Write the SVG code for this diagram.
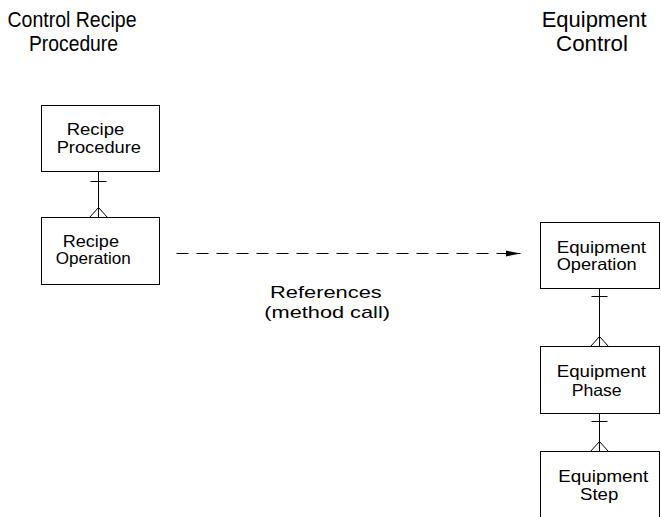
<svg xmlns="http://www.w3.org/2000/svg" width="661" height="517" viewBox="0 0 661 517">
<defs>
<style>
.box{fill:#fff;stroke:#000;stroke-width:1}
.ln{fill:none;stroke:#000;stroke-width:1}
.t{font-family:"Liberation Sans",Arial,sans-serif;fill:#000}
.bt{font-size:16.5px}
.tt{font-size:21.5px}
.rt{font-size:17px}
</style>
<marker id="arr" markerUnits="userSpaceOnUse" markerWidth="16" markerHeight="8" refX="15" refY="3.5" orient="auto">
<path d="M0,0.5 L15,3.5 L0,6.5 Z" fill="#000"/>
</marker>
</defs>
<rect width="661" height="517" fill="#fff"/>
<g id="title-left" class="t tt">
<text x="7.5" y="26.5" textLength="129" lengthAdjust="spacingAndGlyphs">Control Recipe</text>
<text x="29" y="50.5" textLength="89" lengthAdjust="spacingAndGlyphs">Procedure</text>
</g>
<g id="title-right" class="t tt">
<text x="541.7" y="26.5" textLength="105" lengthAdjust="spacingAndGlyphs">Equipment</text>
<text x="556" y="50.5" textLength="72" lengthAdjust="spacingAndGlyphs">Control</text>
</g>
<g id="connectors">
<path class="ln" d="M98.5,171.5 V217.5 M90.5,181.5 H106.5 M89.5,217.5 L98.5,207.5 L107.5,217.5"/>
<path class="ln" d="M599.5,288.5 V346.5 M591.5,296.5 H607.5 M590.5,346.5 L599.5,336.5 L608.5,346.5"/>
<path class="ln" d="M599.5,413.5 V451.5 M591.5,421.5 H607.5 M590.5,451.5 L599.5,441.5 L608.5,451.5"/>
<line class="ln" x1="176.5" y1="253.5" x2="520.5" y2="253.5" stroke-dasharray="12 8" marker-end="url(#arr)"/>
<g id="ref-label" class="t rt">
<text x="270" y="297.5" textLength="111.7" lengthAdjust="spacingAndGlyphs">References</text>
<text x="264.3" y="318.3" textLength="125.7" lengthAdjust="spacingAndGlyphs">(method call)</text>
</g>
</g>
<g id="recipe-procedure">
<rect class="box" x="41.5" y="105.5" width="118" height="66"/>
<text class="t bt" x="66.7" y="135" textLength="57.6" lengthAdjust="spacingAndGlyphs">Recipe</text>
<text class="t bt" x="56.7" y="153.3" textLength="84.3" lengthAdjust="spacingAndGlyphs">Procedure</text>
</g>
<g id="recipe-operation">
<rect class="box" x="41.5" y="217.5" width="118" height="67"/>
<text class="t bt" x="62.7" y="246.7" textLength="56.3" lengthAdjust="spacingAndGlyphs">Recipe</text>
<text class="t bt" x="55.7" y="264.3" textLength="75" lengthAdjust="spacingAndGlyphs">Operation</text>
</g>
<g id="equipment-operation">
<rect class="box" x="540.5" y="222.5" width="119" height="66"/>
<text class="t bt" x="556.7" y="252.7" textLength="89.3" lengthAdjust="spacingAndGlyphs">Equipment</text>
<text class="t bt" x="556.7" y="270.3" textLength="80" lengthAdjust="spacingAndGlyphs">Operation</text>
</g>
<g id="equipment-phase">
<rect class="box" x="540.5" y="346.5" width="119" height="67"/>
<text class="t bt" x="556.7" y="377.3" textLength="89.3" lengthAdjust="spacingAndGlyphs">Equipment</text>
<text class="t bt" x="571.7" y="395.5" textLength="50" lengthAdjust="spacingAndGlyphs">Phase</text>
</g>
<g id="equipment-step">
<rect class="box" x="540.5" y="451.5" width="119" height="70"/>
<text class="t bt" x="558.3" y="482.3" textLength="90" lengthAdjust="spacingAndGlyphs">Equipment</text>
<text class="t bt" x="580" y="500" textLength="38.3" lengthAdjust="spacingAndGlyphs">Step</text>
</g>
</svg>
